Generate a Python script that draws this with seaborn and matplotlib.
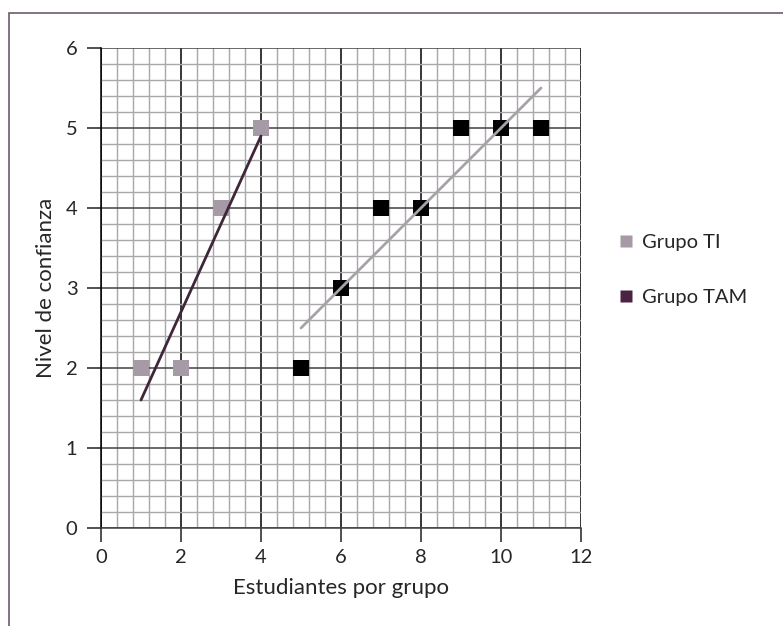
import matplotlib
matplotlib.use('Agg')
import matplotlib.pyplot as plt
from matplotlib.lines import Line2D
from matplotlib.patches import Rectangle
from matplotlib.ticker import MultipleLocator
import seaborn as sns
import pandas as pd

# --- Data ---
ti_x = [1, 2, 3, 4]
ti_y = [2, 2, 4, 5]
tam_x = [5, 6, 7, 8, 9, 10, 11]
tam_y = [2, 3, 4, 4, 5, 5, 5]

TI_COLOR = '#a59aa5'
TI_LINE = '#3f2638'
TAM_COLOR = '#000000'
TAM_LEGEND = '#4a2342'
TAM_LINE = '#aaa0aa'

df_ti = pd.DataFrame({'x': ti_x, 'y': ti_y})
df_tam = pd.DataFrame({'x': tam_x, 'y': tam_y})

sns.set_style('white')
plt.rcParams['font.family'] = ['Lato', 'DejaVu Sans']

fig = plt.figure(figsize=(7.83, 6.26), dpi=100)
ax = fig.add_axes([101 / 783, 1 - 528 / 626, 480 / 783, 480 / 626])

# frame around the figure (left and top visible)
fig.patches.append(Rectangle((9 / 783, -0.1), 1.2, 1 - 13 / 626 + 0.1,
                             transform=fig.transFigure, fill=False,
                             edgecolor='#6e5a6c', linewidth=1.2))

# points
sns.scatterplot(data=df_ti, x='x', y='y', ax=ax, marker='s', s=120,
                color=TI_COLOR, edgecolor='none', zorder=3)
sns.scatterplot(data=df_tam, x='x', y='y', ax=ax, marker='s', s=120,
                color=TAM_COLOR, edgecolor='none', zorder=3)

# linear trend lines
sns.regplot(data=df_ti, x='x', y='y', ax=ax, scatter=False, ci=None,
            line_kws={'color': TI_LINE, 'lw': 2, 'zorder': 4})
sns.regplot(data=df_tam, x='x', y='y', ax=ax, scatter=False, ci=None,
            line_kws={'color': TAM_LINE, 'lw': 2, 'zorder': 4})

ax.set_xlim(0, 12)
ax.set_ylim(0, 6)
ax.xaxis.set_major_locator(MultipleLocator(2))
ax.xaxis.set_minor_locator(MultipleLocator(0.4))
ax.yaxis.set_major_locator(MultipleLocator(1))
ax.yaxis.set_minor_locator(MultipleLocator(0.2))

ax.grid(which='minor', color='#a8a8a8', linewidth=1.0, zorder=0)
ax.grid(which='major', axis='x', color='#000000', linewidth=1.1, zorder=1)
ax.grid(which='major', axis='y', color='#404040', linewidth=1.1, zorder=1)
ax.set_axisbelow(True)

for side in ['top', 'right']:
    ax.spines[side].set_visible(False)
ax.spines['left'].set_color('#000000')
ax.spines['bottom'].set_color('#404040')
ax.spines['left'].set_linewidth(1.1)
ax.spines['bottom'].set_linewidth(1.1)

ax.tick_params(which='major', direction='out', length=10, width=1.1,
               color='#202020', labelsize=14.5, left=True, bottom=True)
ax.tick_params(axis='y', pad=7)
ax.tick_params(axis='x', pad=5)
ax.tick_params(which='minor', length=0)

ax.set_xlabel('Estudiantes por grupo', fontsize=16, labelpad=9)
ax.set_ylabel('Nivel de confianza', fontsize=16, labelpad=7)

handles = [
    Line2D([], [], linestyle='none', marker='s', markersize=9,
           markerfacecolor=TI_COLOR, markeredgecolor='none', label='Grupo TI'),
    Line2D([], [], linestyle='none', marker='s', markersize=9,
           markerfacecolor=TAM_LEGEND, markeredgecolor='none', label='Grupo TAM'),
]
fig.legend(handles=handles, loc='center left',
           bbox_to_anchor=(598 / 783, 1 - 270 / 626), frameon=False,
           fontsize=14.5, labelspacing=1.85, handletextpad=0.3,
           handlelength=1.0)

plt.savefig('out.png', dpi=100)
